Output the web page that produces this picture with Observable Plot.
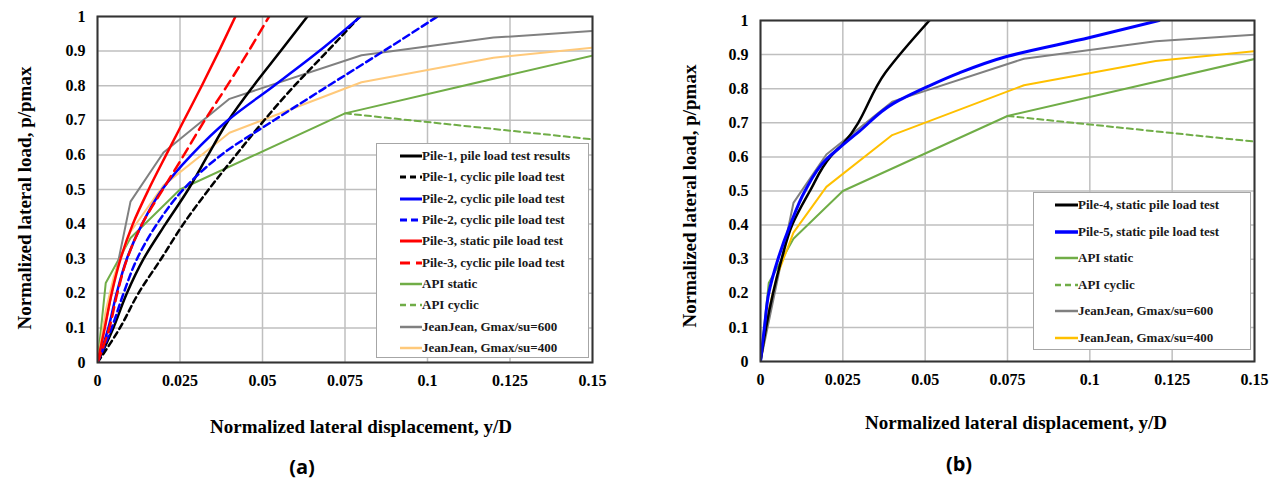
<!DOCTYPE html>
<html><head><meta charset="utf-8">
<script src="https://cdn.jsdelivr.net/npm/d3@7"></script>
<script src="https://cdn.jsdelivr.net/npm/@observablehq/plot@0.6"></script>
<style>
body{margin:0;background:#fff;}
#wrap{position:relative;width:1276px;height:480px;overflow:hidden;font-family:"Liberation Serif",serif;}
.panel{position:absolute;top:0;}
.ttl{position:absolute;font-weight:bold;font-size:19px;font-family:"Liberation Serif",serif;white-space:nowrap;color:#000;transform:translate(-50%,-50%);}
.yt{transform:translate(-50%,-50%) rotate(-90deg);}
.cap{position:absolute;font-family:"Open Sans",sans-serif;font-weight:700;font-size:20px;transform:translate(-50%,-50%);color:#000;}
.legend{position:absolute;background:#fff;border:1px solid #a6a6a6;box-sizing:border-box;}
.row{position:absolute;left:0;right:0;height:20px;display:flex;align-items:center;font-family:"Liberation Serif",serif;font-weight:bold;font-size:13px;color:#1a1a1a;white-space:nowrap;}
</style></head>
<body><div id="wrap"></div>
<script>
// ---- axis ticks ----
const xTicks = [0, 0.025, 0.05, 0.075, 0.1, 0.125, 0.15];
const xTickLabels = ["0", "0.025", "0.05", "0.075", "0.1", "0.125", "0.15"];
const yTicks = [0, 0.1, 0.2, 0.3, 0.4, 0.5, 0.6, 0.7, 0.8, 0.9, 1];
const yTickLabels = ["0", "0.1", "0.2", "0.3", "0.4", "0.5", "0.6", "0.7", "0.8", "0.9", "1"];
const xTitle = "Normalized lateral displacement, y/D";
const yTitle = "Normalized lateral load, p/pmax";

// ---- panel (a) series: [y/D, p/pmax] ----
const pile1Static = [[0,0],[0.0048,0.1],[0.0089,0.2],[0.014,0.3],[0.0206,0.4],[0.0275,0.5],[0.0335,0.6],[0.0397,0.7],[0.0473,0.8],[0.0555,0.9],[0.0636,1]];
const pile1Cyclic = [[0,0],[0.0068,0.1],[0.0124,0.2],[0.0193,0.3],[0.026,0.4],[0.0337,0.5],[0.042,0.6],[0.0505,0.7],[0.0597,0.8],[0.0697,0.9],[0.0795,1]];
const pile2Static = [[0,0],[0.0033,0.1],[0.0058,0.2],[0.0089,0.3],[0.0135,0.4],[0.0196,0.5],[0.0285,0.6],[0.0395,0.7],[0.0535,0.8],[0.0672,0.9],[0.0797,1]];
const pile2Cyclic = [[0,0],[0.0043,0.1],[0.0079,0.2],[0.012,0.3],[0.018,0.4],[0.026,0.5],[0.0375,0.6],[0.0535,0.7],[0.07,0.8],[0.0867,0.9],[0.103,1]];
const pile3Static = [[0,0],[0.0022,0.1],[0.0043,0.2],[0.007,0.3],[0.0107,0.4],[0.0155,0.5],[0.0208,0.6],[0.0262,0.7],[0.0316,0.8],[0.0368,0.9],[0.0418,1]];
const pile3Cyclic = [[0,0],[0.0036,0.1],[0.006,0.2],[0.009,0.3],[0.0135,0.4],[0.0198,0.5],[0.0262,0.6],[0.0325,0.7],[0.0393,0.8],[0.0458,0.9],[0.052,1]];
const apiStatic = [[0,0],[0.0025,0.23],[0.01,0.36],[0.025,0.5],[0.075,0.72],[0.15,0.887]];
const apiCyclic = [[0.075,0.72],[0.15,0.645]];
const jean600 = [[0,0],[0.01,0.465],[0.02,0.607],[0.04,0.762],[0.08,0.888],[0.12,0.939],[0.15,0.958]];
const jean400 = [[0,0],[0.0025,0.15],[0.005,0.25],[0.01,0.378],[0.02,0.512],[0.04,0.664],[0.08,0.81],[0.12,0.881],[0.15,0.91]];

// ---- panel (b) series ----
const pile4Static = [[0,0],[0.0017,0.1],[0.0038,0.2],[0.0064,0.3],[0.0096,0.4],[0.015,0.5],[0.0212,0.6],[0.0252,0.64],[0.038,0.848],[0.0513,1]];
const pile5Static = [[0,0],[0.0012,0.1],[0.0025,0.2],[0.0053,0.3],[0.009,0.4],[0.0135,0.5],[0.0197,0.59],[0.025,0.635],[0.03,0.675],[0.0404,0.757],[0.0507,0.806],[0.06,0.845],[0.075,0.895],[0.1,0.95],[0.121,1]];

// ---- series config (labels + styles) ----
const seriesA = [
  {label:"Pile-1, pile load test results", data:pile1Static, stroke:"#000000", dash:null, w:2.5, smooth:true},
  {label:"Pile-1, cyclic pile load test", data:pile1Cyclic, stroke:"#000000", dash:"6,4", w:2.5, smooth:true},
  {label:"Pile-2, cyclic pile load test", data:pile2Static, stroke:"#0000ff", dash:null, w:2.5, smooth:true},
  {label:"Pile-2, cyclic pile load test", data:pile2Cyclic, stroke:"#0000ff", dash:"7,4", w:2.5, smooth:true},
  {label:"Pile-3, static pile load test", data:pile3Static, stroke:"#ff0000", dash:null, w:2.5, smooth:true},
  {label:"Pile-3, cyclic pile load test", data:pile3Cyclic, stroke:"#ff0000", dash:"10,6", w:2.5, smooth:true},
  {label:"API static", data:apiStatic, stroke:"#70ad47", dash:null, w:2},
  {label:"API cyclic", data:apiCyclic, stroke:"#70ad47", dash:"6,4", w:2},
  {label:"JeanJean, Gmax/su=600", data:jean600, stroke:"#808080", dash:null, w:2},
  {label:"JeanJean, Gmax/su=400", data:jean400, stroke:"#ffc97a", dash:null, w:2}
];
const seriesB = [
  {label:"Pile-4, static pile load test", data:pile4Static, stroke:"#000000", dash:null, w:2.5, smooth:true},
  {label:"Pile-5, static pile load test", data:pile5Static, stroke:"#0000ff", dash:null, w:3, smooth:true},
  {label:"API static", data:apiStatic, stroke:"#70ad47", dash:null, w:2},
  {label:"API cyclic", data:apiCyclic, stroke:"#70ad47", dash:"6,4", w:2},
  {label:"JeanJean, Gmax/su=600", data:jean600, stroke:"#808080", dash:null, w:2},
  {label:"JeanJean, Gmax/su=400", data:jean400, stroke:"#ffc000", dash:null, w:2}
];
// drawing order (models first, piles on top)
const orderA = [7,6,8,9,0,1,2,3,4,5];
const orderB = [3,2,4,5,0,1];

function panel(series, order, m) {
  return Plot.plot({
    width: m.width, height: 440,
    marginLeft: m.left, marginRight: m.right, marginTop: m.top, marginBottom: m.bottom,
    x: {domain:[0,0.15], ticks:xTicks, tickFormat:d => xTickLabels[xTicks.indexOf(d)], tickSize:0, tickPadding:12, label:null},
    y: {domain:[0,1], ticks:yTicks, tickFormat:d => yTickLabels[yTicks.indexOf(d)], tickSize:0, tickPadding:12, label:null},
    style: {fontFamily:"Liberation Serif", fontSize:"16px", fontWeight:"bold", color:"#000", background:"transparent", overflow:"visible"},
    marks: [
      Plot.gridX(xTicks, {stroke:"#bfbfbf", strokeOpacity:1, strokeWidth:1.5}),
      Plot.gridY(yTicks, {stroke:"#bfbfbf", strokeOpacity:1, strokeWidth:1.5}),
      ...order.map(i => {
        const s = series[i];
        return Plot.line(s.data, {x:d => d[0], y:d => d[1], stroke:s.stroke, strokeWidth:s.w, strokeDasharray:s.dash, clip:true, strokeLinejoin:"round", curve: s.smooth ? "monotone-y" : "linear"});
      }),
      Plot.frame({stroke:"#333", strokeWidth:2})
    ]
  });
}

const wrap = document.getElementById("wrap");
function place(el, left) { el.classList.add("panel"); el.style.left = left + "px"; wrap.appendChild(el); }
place(panel(seriesA, orderA, {width:620, left:97, right:28, top:16, bottom:78}), 0);
place(panel(seriesB, orderB, {width:636, left:120, right:22, top:20, bottom:79}), 640);

function text(cls, str, x, y) {
  const d = document.createElement("div");
  d.className = cls; d.textContent = str;
  d.style.left = x + "px"; d.style.top = y + "px";
  wrap.appendChild(d);
}
text("ttl", xTitle, 361, 427);
text("ttl", xTitle, 1016, 423);
text("ttl yt", yTitle, 25, 198);
text("ttl yt", yTitle, 690, 196);
text("cap", "(a)", 302, 466);
text("cap", "(b)", 959, 463);

function legend(series, box) {
  const L = document.createElement("div");
  L.className = "legend";
  Object.assign(L.style, {left:box.x+"px", top:box.y+"px", width:box.w+"px", height:box.h+"px"});
  series.forEach((s, i) => {
    const r = document.createElement("div");
    r.className = "row";
    r.style.top = (box.first + i*box.step - 10) + "px";
    const ns = "http://www.w3.org/2000/svg";
    const sv = document.createElementNS(ns, "svg");
    sv.setAttribute("width", box.sx1); sv.setAttribute("height", 20);
    sv.style.flex = "none";
    const ln = document.createElementNS(ns, "line");
    ln.setAttribute("x1", box.sx0); ln.setAttribute("x2", box.sx1);
    ln.setAttribute("y1", 10); ln.setAttribute("y2", 10);
    ln.setAttribute("stroke", s.stroke); ln.setAttribute("stroke-width", s.w + 0.5);
    if (s.dash) ln.setAttribute("stroke-dasharray", s.dash);
    sv.appendChild(ln);
    r.appendChild(sv);
    const t = document.createElement("span");
    t.textContent = s.label;
    r.appendChild(t);
    L.appendChild(r);
  });
  wrap.appendChild(L);
}
legend(seriesA, {x:376, y:143, w:213, h:215, first:12, step:21.35, sx0:23, sx1:45});
legend(seriesB, {x:1033, y:192, w:218, h:158, first:12, step:26.6, sx0:21, sx1:44});
</script>
</body></html>
